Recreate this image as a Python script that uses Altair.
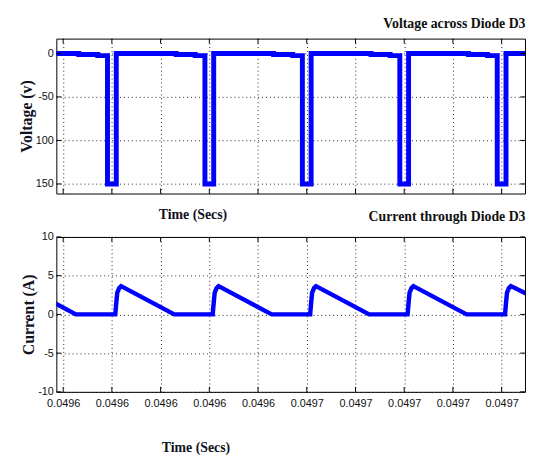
import altair as alt
import pandas as pd

# ---------------- data ----------------
v_time = [0.0495986, 0.0496032, 0.0496032, 0.0496071, 0.0496071, 0.0496091, 0.0496091, 0.0496109, 0.0496109,
          0.0496232, 0.0496232, 0.0496271, 0.0496271, 0.0496291, 0.0496291, 0.0496309, 0.0496309,
          0.0496432, 0.0496432, 0.0496471, 0.0496471, 0.0496491, 0.0496491, 0.0496509, 0.0496509,
          0.0496632, 0.0496632, 0.0496671, 0.0496671, 0.0496691, 0.0496691, 0.0496709, 0.0496709,
          0.0496832, 0.0496832, 0.0496871, 0.0496871, 0.0496891, 0.0496891, 0.0496909, 0.0496909,
          0.0496948]
v_value = [0, 0, -1.2, -1.2, -2.5, -2.5, -150, -150, 0,
           0, -1.2, -1.2, -2.5, -2.5, -150, -150, 0,
           0, -1.2, -1.2, -2.5, -2.5, -150, -150, 0,
           0, -1.2, -1.2, -2.5, -2.5, -150, -150, 0,
           0, -1.2, -1.2, -2.5, -2.5, -150, -150, 0,
           0]

i_time = [0.0495986, 0.0496026,
          0.0496107, 0.0496109, 0.0496111, 0.0496115, 0.0496119, 0.0496228,
          0.0496307, 0.0496309, 0.0496311, 0.0496315, 0.0496319, 0.0496428,
          0.0496507, 0.0496509, 0.0496511, 0.0496515, 0.0496519, 0.0496628,
          0.0496707, 0.0496709, 0.0496711, 0.0496715, 0.0496719, 0.0496828,
          0.0496907, 0.0496909, 0.0496911, 0.0496915, 0.0496919, 0.0496948]
i_value = [1.35, 0,
           0, 1.5, 2.8, 3.4, 3.65, 0,
           0, 1.5, 2.8, 3.4, 3.65, 0,
           0, 1.5, 2.8, 3.4, 3.65, 0,
           0, 1.5, 2.8, 3.4, 3.65, 0,
           0, 1.5, 2.8, 3.4, 3.65, 2.75]

x_domain = [0.0495986, 0.0496948]
x_ticks = [0.04960, 0.04961, 0.04962, 0.04963, 0.04964, 0.04965, 0.04966, 0.04967, 0.04968, 0.04969]
x_tick_labels = ["0.0496", "0.0496", "0.0496", "0.0496", "0.0496",
                 "0.0497", "0.0497", "0.0497", "0.0497", "0.0497"]
v_domain = [-161, 17]
v_ticks = [0, -50, -100, -150]
v_tick_labels = ["0", "-50", "100", "150"]
i_domain = [-10, 10]
i_ticks = [10, 5, 0, -5, -10]
i_tick_labels = ["10", "5", "0", "-5", "-10"]

W, H = 475, 157
BLUE = "#0000FF"
SERIF = "Liberation Serif, Times New Roman, serif"
SANS = "Liberation Sans, Arial, sans-serif"


def label_expr(values, labels):
    return "[" + ",".join("'%s'" % l for l in labels) + "][indexof([" + \
        ",".join(repr(v) for v in values) + "], datum.value)]"


vdf = pd.DataFrame({"t": v_time, "v": v_value, "idx": range(len(v_time))})
idf = pd.DataFrame({"t": i_time, "v": i_value, "idx": range(len(i_time))})
xt = pd.DataFrame({"t": x_ticks})


def panel(df, ydomain, yticks, ylabels, ytitle, title, x_labels, x_title_pad, x_title_x, sw):
    xs = alt.Scale(domain=x_domain, nice=False, zero=False)
    ys = alt.Scale(domain=ydomain, nice=False, zero=False)
    xaxis = alt.Axis(values=x_ticks, grid=True, labels=x_labels, ticks=False,
                     labelExpr=label_expr(x_ticks, x_tick_labels), labelPadding=6,
                     title="Time (Secs)", titlePadding=x_title_pad, titleFontSize=14,
                     titleX=x_title_x, titleAlign="center")
    yaxis = alt.Axis(values=yticks, grid=True, ticks=False,
                     labelExpr=label_expr(yticks, ylabels), title=ytitle)
    line = alt.Chart(df).mark_line(color=BLUE, strokeWidth=sw, strokeJoin="miter",
                                   strokeCap="square", clip=True).encode(
        x=alt.X("t:Q", scale=xs, axis=xaxis),
        y=alt.Y("v:Q", scale=ys, axis=yaxis),
        order=alt.Order("idx:Q"),
    )
    ytd = pd.DataFrame({"v": yticks})
    tb = alt.Chart(xt).mark_rule(color="black").encode(
        x=alt.X("t:Q", scale=xs, axis=xaxis), y=alt.value(H - 5), y2=alt.value(H))
    tt = alt.Chart(xt).mark_rule(color="black").encode(
        x=alt.X("t:Q", scale=xs, axis=xaxis), y=alt.value(0), y2=alt.value(5))
    tl = alt.Chart(ytd).mark_rule(color="black").encode(
        y=alt.Y("v:Q", scale=ys, axis=yaxis), x=alt.value(0), x2=alt.value(5))
    tr = alt.Chart(ytd).mark_rule(color="black").encode(
        y=alt.Y("v:Q", scale=ys, axis=yaxis), x=alt.value(W - 5), x2=alt.value(W))
    return alt.layer(line, tb, tt, tl, tr).properties(
        width=W, height=H,
        title=alt.TitleParams(title, anchor="end", font=SERIF, fontSize=14,
                              fontWeight="bold", color="#111111", offset=7))


top = panel(vdf, v_domain, v_ticks, v_tick_labels, "Voltage (v)",
            "Voltage across Diode D3", False, 14, 138, 5)
bottom = panel(idf, i_domain, i_ticks, i_tick_labels, "Current (A)",
               "Current through Diode D3", True, 32, 141, 4.5)

chart = alt.vconcat(top, bottom, spacing=-13).properties(
    padding={"left": 10, "top": 6, "right": 0, "bottom": 0},
    background="white",
).configure_view(stroke="black", strokeWidth=1).configure_axis(
    domain=False,
    gridColor="black", gridDash=[1, 3], gridOpacity=0.85, gridWidth=1,
    labelFont=SANS, labelFontSize=11, labelColor="#111111", labelPadding=3,
    titleFont=SERIF, titleFontSize=16, titleFontWeight="bold", titleColor="#111122",
    titlePadding=1,
)

chart.save("out.html", embed_options={"renderer": "svg", "actions": False})
